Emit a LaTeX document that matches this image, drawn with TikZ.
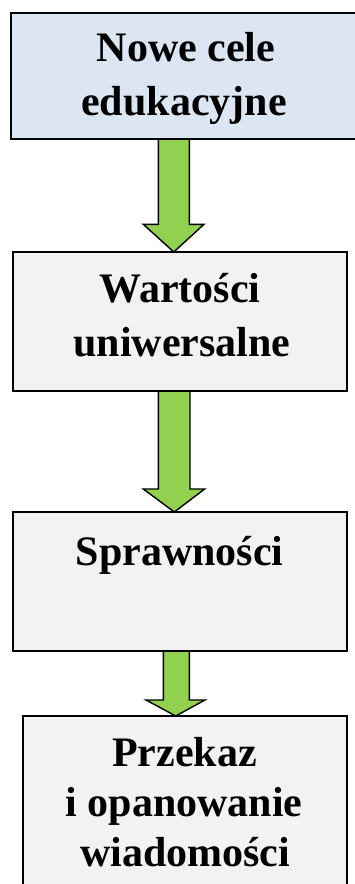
\documentclass[tikz,border=0pt]{standalone}
\usepackage{fontspec}
\setmainfont{Liberation Serif}
\definecolor{headblue}{HTML}{DCE6F2}
\definecolor{boxgray}{HTML}{F2F2F2}
\definecolor{arrowgreen}{HTML}{92D050}
\begin{document}
\begin{tikzpicture}[x=1pt,y=-1pt,
  box/.style={draw=black, line width=1.8pt, rectangle, inner sep=0pt, anchor=north west},
  label/.style={anchor=base, inner sep=0pt, font=\fontsize{42}{54}\selectfont\bfseries},
  flow/.style={draw=black, fill=arrowgreen, line width=1.4pt, line join=miter}]
  % page frame
  \clip (0,0) rectangle (355,884);
  \fill[white] (0,0) rectangle (355,884);

  % placeholders for box geometry (nodes drawn after the arrows)
  \path
    (11,12.7)  node[box, draw=none, minimum width=352pt, minimum height=124.3pt] (b1) {}
    (13,252)   node[box, draw=none, minimum width=332pt, minimum height=137pt]   (b2) {}
    (13,512)   node[box, draw=none, minimum width=332pt, minimum height=137pt]   (b3) {}
    (23,716)   node[box, draw=none, minimum width=322pt, minimum height=200pt]   (b4) {};

  % block arrows between the boxes
  \draw[flow] (158.3,0 |- b1.south) -- (158.3,224.3) -- (143.3,224.3)
    -- (173.8,0 |- b2.north) -- (204,224.3) -- (189.3,224.3) -- (189.3,0 |- b1.south) -- cycle;
  \draw[flow] (158.3,0 |- b2.south) -- (158.3,489) -- (143.3,489)
    -- (174.3,0 |- b3.north) -- (204.7,489) -- (190,489) -- (190,0 |- b2.south) -- cycle;
  \draw[flow] (163.3,0 |- b3.south) -- (163.3,700) -- (146,700)
    -- (175.7,0 |- b4.north) -- (205,700) -- (189.3,700) -- (189.3,0 |- b3.south) -- cycle;

  % boxes
  \draw[line width=1.8pt, fill=headblue] (b1.north west) rectangle (b1.south east);
  \draw[line width=1.8pt, fill=boxgray] (b2.north west) rectangle (b2.south east);
  \draw[line width=1.8pt, fill=boxgray] (b3.north west) rectangle (b3.south east);
  \draw[line width=1.8pt, fill=boxgray] (b4.north west) rectangle (b4.south east);

  % texts
  \node[label] (t1a) at (186,61)    {Nowe cele};
  \node[label] (t1b) at (184,115)   {edukacyjne};
  \node[label] (t2a) at (180,302.7) {Wartości};
  \node[label] (t2b) at (182,356.7) {uniwersalne};
  \node[label] (t3a) at (179.5,565) {Sprawności};
  \node[label] (t4a) at (184.5,766) {Przekaz};
  \node[label] (t4b) at (184,816)   {i opanowanie};
  \node[label] (t4c) at (185,866)   {wiadomości};
\end{tikzpicture}
\end{document}
